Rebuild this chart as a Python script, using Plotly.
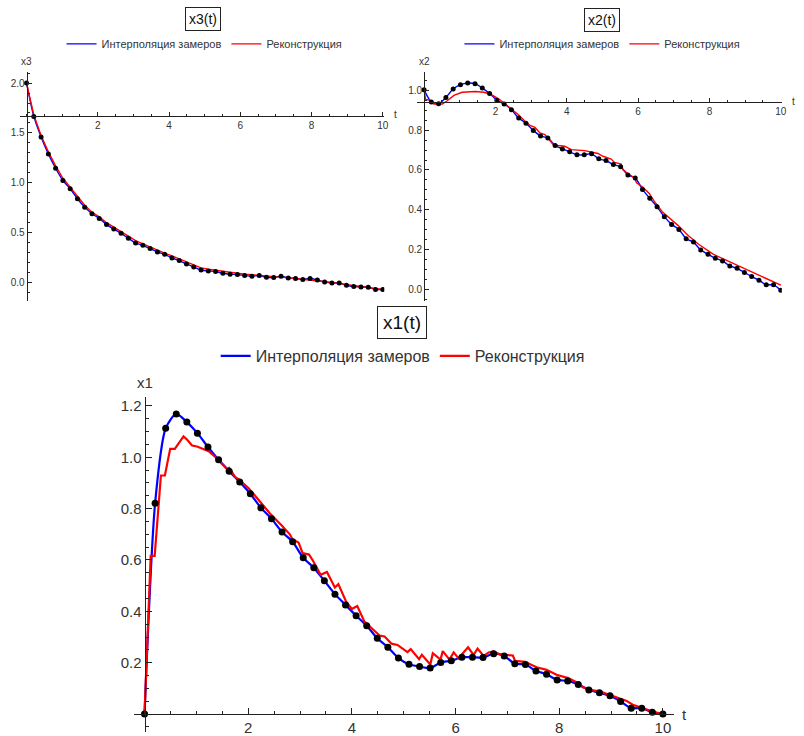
import numpy as np
import plotly.graph_objects as go

# ---------------- data ----------------
N_MEAS = 50
t_meas = np.linspace(0, 10, N_MEAS)

x1_meas = [0.0, 0.821, 1.113, 1.169, 1.137, 1.094, 1.040, 0.990, 0.946, 0.904,
           0.858, 0.803, 0.761, 0.709, 0.671, 0.609, 0.570, 0.519, 0.467, 0.425,
           0.383, 0.344, 0.295, 0.260, 0.218, 0.194, 0.185, 0.179, 0.201, 0.208,
           0.221, 0.221, 0.220, 0.235, 0.226, 0.196, 0.193, 0.168, 0.155, 0.133,
           0.129, 0.115, 0.094, 0.083, 0.071, 0.049, 0.023, 0.023, 0.007, 0.0]

x2_meas = [1.003, 0.942, 0.933, 0.965, 1.007, 1.029, 1.037, 1.034, 1.012, 0.985,
           0.950, 0.932, 0.903, 0.861, 0.835, 0.799, 0.771, 0.761, 0.723, 0.706,
           0.691, 0.677, 0.676, 0.682, 0.656, 0.647, 0.627, 0.616, 0.574, 0.560,
           0.502, 0.457, 0.415, 0.365, 0.326, 0.301, 0.254, 0.237, 0.197, 0.176,
           0.156, 0.142, 0.117, 0.105, 0.084, 0.064, 0.045, 0.022, 0.022, -0.005]

x3_meas = [2.000, 1.666, 1.460, 1.290, 1.146, 1.023, 0.940, 0.840, 0.756, 0.690,
           0.643, 0.583, 0.536, 0.493, 0.443, 0.396, 0.373, 0.340, 0.306, 0.283,
           0.246, 0.220, 0.186, 0.156, 0.126, 0.116, 0.110, 0.093, 0.083, 0.080,
           0.070, 0.063, 0.070, 0.053, 0.050, 0.063, 0.046, 0.040, 0.030, 0.040,
           0.026, 0.006, -0.004, -0.004, -0.027, -0.040, -0.044, -0.047, -0.070, -0.070]

x1_rec_t = [0.0, 0.119, 0.196, 0.316, 0.393, 0.495, 0.585, 0.752, 0.815, 0.917,
            1.012, 1.108, 1.237, 1.365, 1.467, 1.588, 1.634, 1.749, 1.812, 2.004,
            2.100, 2.259, 2.420, 2.642, 2.803, 2.857, 2.972, 3.049, 3.174, 3.250,
            3.398, 3.519, 3.672, 3.739, 3.883, 3.998, 4.104, 4.242, 4.464, 4.535,
            4.631, 4.765, 4.880, 5.072, 5.135, 5.296, 5.350, 5.513, 5.561, 5.710,
            5.753, 5.883, 5.964, 6.056, 6.242, 6.347, 6.424, 6.543, 6.639, 6.734,
            6.861, 7.105, 7.149, 7.340, 7.469, 7.565, 7.756, 7.948, 8.173, 8.332,
            8.460, 8.587, 8.778, 8.970, 9.162, 9.290, 9.419, 9.611, 9.802, 10.0]
x1_rec = [0.0, 0.616, 0.616, 0.929, 0.929, 1.033, 1.033, 1.081, 1.070, 1.046,
          1.042, 1.033, 1.024, 1.001, 0.980, 0.955, 0.959, 0.923, 0.915, 0.880,
          0.858, 0.819, 0.781, 0.735, 0.700, 0.680, 0.668, 0.627, 0.621, 0.597,
          0.542, 0.553, 0.493, 0.506, 0.440, 0.409, 0.421, 0.360, 0.316, 0.306,
          0.302, 0.274, 0.269, 0.241, 0.253, 0.214, 0.231, 0.193, 0.237, 0.212,
          0.245, 0.212, 0.240, 0.217, 0.260, 0.230, 0.255, 0.226, 0.240, 0.244,
          0.232, 0.228, 0.207, 0.203, 0.191, 0.182, 0.172, 0.153, 0.140, 0.124,
          0.104, 0.094, 0.088, 0.075, 0.059, 0.052, 0.036, 0.023, 0.010, 0.0]

x2_rec_t = [0.0, 0.045, 0.139, 0.212, 0.279, 0.510, 0.649, 0.836, 1.067, 1.437,
            1.671, 1.855, 2.089, 2.273, 2.460, 2.646, 2.830, 2.969, 3.109, 3.248,
            3.387, 3.554, 3.621, 3.760, 3.944, 4.131, 4.501, 4.875, 5.014, 5.245,
            5.337, 5.524, 5.571, 5.755, 5.894, 5.955, 6.128, 6.312, 6.451, 6.685,
            6.930, 7.125, 7.404, 7.696, 8.114, 8.540, 9.006, 9.471, 10.0]
x2_rec = [1.003, 0.953, 0.953, 0.937, 0.932, 0.932, 0.948, 0.975, 0.991, 0.995,
          0.991, 0.982, 0.958, 0.933, 0.907, 0.878, 0.845, 0.824, 0.814, 0.786,
          0.778, 0.744, 0.728, 0.723, 0.719, 0.702, 0.697, 0.683, 0.669, 0.655,
          0.638, 0.630, 0.602, 0.575, 0.562, 0.535, 0.514, 0.482, 0.443, 0.388,
          0.351, 0.320, 0.270, 0.226, 0.175, 0.140, 0.100, 0.062, 0.020]

x3_rec = [2.000, 1.680, 1.475, 1.310, 1.170, 1.045, 0.955, 0.860, 0.775, 0.705,
          0.658, 0.600, 0.553, 0.510, 0.465, 0.420, 0.388, 0.355, 0.323, 0.295,
          0.267, 0.237, 0.207, 0.177, 0.147, 0.133, 0.123, 0.112, 0.100, 0.091,
          0.083, 0.078, 0.073, 0.066, 0.060, 0.053, 0.046, 0.040, 0.033, 0.025,
          0.016, 0.008, 0.000, -0.011, -0.023, -0.032, -0.040, -0.050, -0.060, -0.070]

name_interp = "Интерполяция замеров"
name_rec = "Реконструкция"
titles = ["x3(t)", "x2(t)", "x1(t)"]
ylabels = ["x3", "x2", "x1"]

BLUE = "#0000ff"
RED = "#ff0000"
AX = "#222222"
TXT = "#333333"
FONT = "Liberation Sans, Arial, sans-serif"

fig = go.Figure()

panels = [
    ("x", "y", "legend", x3_meas, list(t_meas), x3_rec, 1.4, 5),
    ("x2", "y2", "legend2", x2_meas, x2_rec_t, x2_rec, 1.4, 5),
    ("x3", "y3", "legend3", x1_meas, x1_rec_t, x1_rec, 2.2, 7),
]
for xa, ya, lg, meas, rt, rv, lw, ds in panels:
    fig.add_trace(go.Scatter(x=t_meas, y=meas, mode="lines", name=name_interp,
                             line=dict(color=BLUE, width=lw, shape="spline", smoothing=0.7),
                             xaxis=xa, yaxis=ya, legend=lg))
    fig.add_trace(go.Scatter(x=rt, y=rv, mode="lines", name=name_rec,
                             line=dict(color=RED, width=lw),
                             xaxis=xa, yaxis=ya, legend=lg))
    fig.add_trace(go.Scatter(x=t_meas, y=meas, mode="markers", showlegend=False,
                             marker=dict(color="black", size=ds),
                             xaxis=xa, yaxis=ya))


def xax(domain, rng, pos, fs, tl, mtl):
    return dict(domain=domain, range=rng, anchor="free", position=pos,
                showline=True, linecolor=AX, linewidth=1, showgrid=False, zeroline=False,
                ticks="inside", ticklen=tl, tickcolor=AX, tickwidth=1,
                tickmode="array", tickvals=[2, 4, 6, 8, 10], ticktext=["2", "4", "6", "8", "10"],
                tickfont=dict(size=fs, color=TXT, family=FONT),
                minor=dict(tickmode="linear", tick0=0, dtick=0.5, ticks="inside",
                           ticklen=mtl, tickcolor=AX, showgrid=False))


def yax(domain, rng, pos, fs, tl, mtl, vals, mdt):
    return dict(domain=domain, range=rng, anchor="free", position=pos,
                showline=True, linecolor=AX, linewidth=1, showgrid=False, zeroline=False,
                ticks="inside", ticklen=tl, tickcolor=AX, tickwidth=1,
                tickmode="array", tickvals=vals, ticktext=["%.1f" % v for v in vals],
                tickfont=dict(size=fs, color=TXT, family=FONT),
                minor=dict(tickmode="linear", tick0=0, dtick=mdt, ticks="inside",
                           ticklen=mtl, tickcolor=AX, showgrid=False))


fig.update_layout(
    width=804, height=736, margin=dict(l=0, r=0, t=0, b=0),
    paper_bgcolor="white", plot_bgcolor="white",
    font=dict(family=FONT, color=TXT),
    xaxis=xax([0.02488, 0.48097], [-0.187, 10.042], 0.84239, 10, 4, 2),
    yaxis=yax([0.5901, 0.90258], [-0.184, 2.116], 0.03321, 10, 4, 2,
              [0.0, 0.5, 1.0, 1.5, 2.0], 0.1),
    xaxis2=xax([0.52239, 0.97848], [-0.187, 10.028], 0.86046, 10, 4, 2),
    yaxis2=yax([0.5901, 0.90258], [-0.0587, 1.0953], 0.53072, 10, 4, 2,
               [0.0, 0.2, 0.4, 0.6, 0.8, 1.0], 0.05),
    xaxis3=xax([0.1679, 0.8433], [-0.2, 10.21], 0.02717, 15, 6, 3),
    yaxis3=yax([0.00272, 0.4592], [-0.07, 1.235], 0.18097, 15, 6, 3,
               [0.2, 0.4, 0.6, 0.8, 1.0, 1.2], 0.05),
    legend=dict(orientation="h", x=0.256, y=1 - 44 / 736, xanchor="center", yanchor="middle",
                font=dict(size=11, color=TXT, family=FONT), bgcolor="rgba(0,0,0,0)"),
    legend2=dict(orientation="h", x=0.754, y=1 - 44 / 736, xanchor="center", yanchor="middle",
                 font=dict(size=11, color=TXT, family=FONT), bgcolor="rgba(0,0,0,0)"),
    legend3=dict(orientation="h", x=0.504, y=1 - 357 / 736, xanchor="center", yanchor="middle",
                 font=dict(size=16, color=TXT, family=FONT), bgcolor="rgba(0,0,0,0)"),
    showlegend=True,
)

ann = []
# boxed titles
for txt, cx, cy, fs, pad in [(titles[0], 204.2, 19.2, 14, 3),
                             (titles[1], 605.5, 20.0, 14, 3),
                             (titles[2], 405.0, 323.0, 19, 5)]:
    ann.append(dict(text=txt, x=cx / 804, y=1 - cy / 736, xref="paper", yref="paper",
                    showarrow=False, xanchor="center", yanchor="middle",
                    font=dict(size=fs, color="#111", family=FONT),
                    bordercolor="#222", borderwidth=1, borderpad=pad, bgcolor="white"))
# axis labels (paper coordinates)
for txt, px, py, fs in [(ylabels[0], 26.7, 61.7, 10), ("t", 398.0, 115.0, 10),
                        (ylabels[1], 426.7, 61.7, 10), ("t", 798.0, 102.0, 10),
                        (ylabels[2], 145.5, 384.0, 15), ("t", 688.5, 716.0, 15)]:
    ann.append(dict(text=txt, x=px / 804, y=1 - py / 736, xref="paper", yref="paper",
                    showarrow=False, xanchor="center", yanchor="middle",
                    font=dict(size=fs, color=TXT, family=FONT)))
fig.update_layout(annotations=ann)

fig.write_html("out.html", config={"displayModeBar": False},
               post_script="document.body.style.margin='0';")
